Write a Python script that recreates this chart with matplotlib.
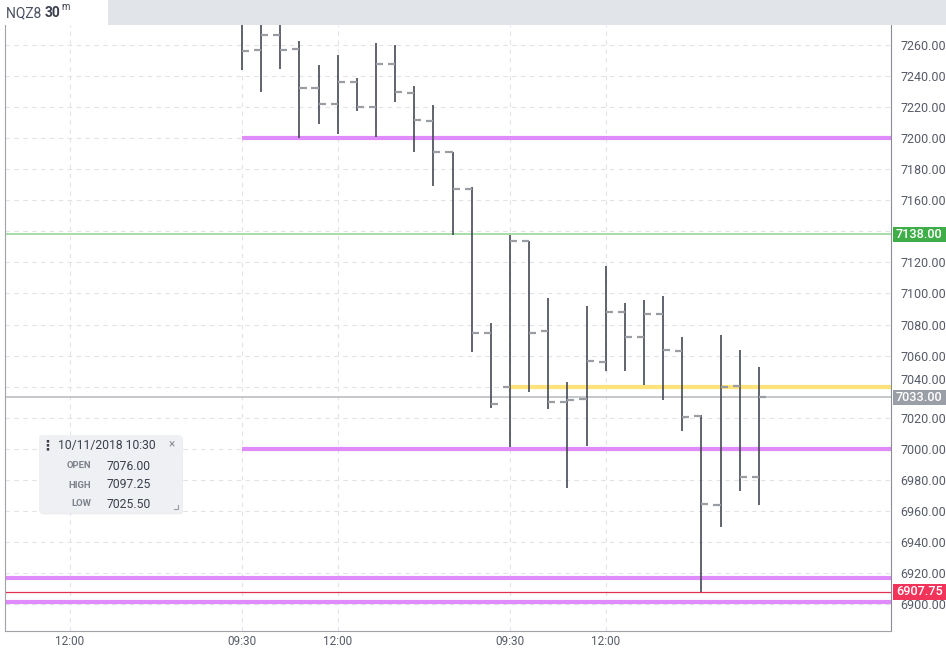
import matplotlib
matplotlib.use('Agg')
import matplotlib.pyplot as plt
from matplotlib.patches import Rectangle, FancyBboxPatch
from matplotlib.lines import Line2D
import matplotlib.transforms as mtransforms

plt.rcParams['font.family'] = ['Roboto', 'DejaVu Sans']

# 30 minute bars, index 0 = 09:30 of the first visible session
opens = [7276, 7256.75, 7266.5, 7257.5, 7232.25, 7222, 7236.25, 7220, 7248, 7229.25,
         7211.25, 7191, 7167.25, 7074.75, 7040, 7133.75, 7076, 7030.25, 7032, 7056,
         7088, 7072, 7086.75, 7063.25, 7021, 6963.75, 7040.5, 6981.75]
highs = [7278, 7280, 7276, 7262.5, 7247, 7253.5, 7238.75, 7261.25, 7260, 7233.5,
         7221.5, 7191.25, 7168.5, 7080.75, 7137.75, 7134, 7097.25, 7043, 7092, 7117.75,
         7094, 7095.75, 7098.5, 7072, 7021.75, 7073.25, 7063.5, 7052.75]
lows = [7244, 7230, 7244.5, 7200.25, 7209, 7203, 7217.75, 7201, 7223, 7191,
        7169.25, 7137.5, 7062, 7026.5, 7001, 7036.5, 7025.5, 6974.75, 7001.75, 7050,
        7050, 7041, 7031.5, 7011.5, 6907.75, 6949.75, 6972.75, 6963.75]
closes = [7256, 7266.5, 7256.75, 7232.25, 7222, 7236.25, 7220, 7248, 7229.75, 7212,
          7191, 7167.25, 7074.75, 7029, 7133.75, 7074.75, 7030.25, 7031.5, 7056.5, 7088.25,
          7072, 7086.75, 7063.75, 7020.5, 6964.5, 7040, 6981.75, 7033]

# drawn levels: (price, start index or None for full width, kind)
levels = [
    (7200, 0, 'purple'),
    (7000, 0, 'purple'),
    (6917, None, 'purple'),
    (6901, None, 'purple'),
    (7040, 14, 'yellow'),
    (7138, None, 'green'),
    (7033, None, 'gray'),
    (6907.75, None, 'red'),
]
level_styles = {
    'purple': dict(color='#df8bfb', lw=3.0),
    'yellow': dict(color='#ffe27a', lw=3.0),
    'green': dict(color='#8fd590', lw=1.1),
    'gray': dict(color='#bcbec2', lw=1.2),
    'red': dict(color='#e0334f', lw=0.9),
}
price_tags = [(7138, '7138.00', '#3fae49'), (7033, '7033.00', '#9a9ea6'),
              (6907.75, '6907.75', '#f2335a')]

y_ticks = list(range(6900, 7261, 20))
hidden_ticks = [7140]  # covered by the 7138 tag
x_ticks = [-9, 0, 5, 14, 19]
x_labels = ['12:00', '09:30', '12:00', '09:30', '12:00']

W, H = 946, 650
fig = plt.figure(figsize=(W / 100, H / 100), dpi=100)
ax = fig.add_axes([5 / W, (H - 631) / H, (891 - 5) / W, (631 - 25) / H])

px_per_20 = 31.06
ax.set_ylim(6900 - 27 / px_per_20 * 20, 7260 + 20 / px_per_20 * 20)
ax.set_xlim((5 - 242) / 19.14, (891 - 242) / 19.14)

# grid
for y in y_ticks:
    ax.axhline(y, color='#e2e3e6', lw=0.8, dashes=(4, 4), zorder=0)
for x in x_ticks:
    ax.axvline(x, color='#e2e3e6', lw=0.8, dashes=(4, 4), zorder=0)

# levels
for price, start, kind in levels:
    st = level_styles[kind]
    x0 = ax.get_xlim()[0] if start is None else start
    ax.hlines(price, x0, ax.get_xlim()[1], colors=st['color'], lw=st['lw'], zorder=2)

# OHLC bars
tw = 0.37
idx = list(range(len(opens)))
ax.vlines(idx, lows, highs, colors='#454954', lw=1.2, zorder=3)
ax.hlines(opens, [i - tw for i in idx], idx, colors='#9a9da3', lw=1.6, zorder=3)
ax.hlines(closes, idx, [i + tw for i in idx], colors='#9a9da3', lw=1.6, zorder=3)

# axes styling
ax.spines['top'].set_visible(False)
ax.spines['left'].set_color('#a0a3a8')
ax.spines['bottom'].set_color('#a0a3a8')
ax.spines['right'].set_color('#8a8d93')
ax.yaxis.tick_right()
ax.set_yticks(y_ticks)
ax.set_yticklabels(['' if v in hidden_ticks else f'{v:.2f}' for v in y_ticks])
ax.set_xticks(x_ticks)
ax.set_xticklabels(x_labels)
ax.tick_params(axis='y', length=0, pad=7, labelsize=9, labelcolor='#565b68')
ax.tick_params(axis='x', length=0, pad=3, labelsize=8.5, labelcolor='#565b68')
# the 7040 label sits just above the 7033 tag
for lab in ax.get_yticklabels():
    if lab.get_text() == '7040.00':
        lab.set_va('bottom')

# price tags on the right axis
trans = mtransforms.blended_transform_factory(ax.transAxes, ax.transData)
aw = 886
for price, txt, col in price_tags:
    h = 15.5 / px_per_20 * 20
    ax.add_patch(Rectangle((1 + 2 / aw, price - h / 2), 54 / aw, h, transform=trans,
                           facecolor=col, edgecolor='none', clip_on=False, zorder=10))
    ax.text(1 + 5 / aw, price, txt, transform=trans, color='white', fontsize=9.2,
            fontweight='medium', va='center', ha='left', zorder=11, clip_on=False)


def fp(x, y):
    return x / W, 1 - y / H


# header bar and symbol title
x0, y0 = fp(108, 25)
fig.patches.append(Rectangle((x0, y0), 1 - x0, 1 - y0, transform=fig.transFigure,
                             facecolor='#e1e4e9', edgecolor='none'))
fig.text(*fp(6, 13), 'NQZ8 ', fontsize=10, color='#4b5060', va='center', ha='left')
fig.text(*fp(45, 13), '30', fontsize=10, color='#3b3f4c', fontweight='bold', va='center', ha='left')
fig.text(*fp(61, 7), 'm', fontsize=7, color='#3b3f4c', va='center', ha='left')

# tooltip box
bx0, by1 = fp(39, 513)
bx1, by0 = fp(182, 435)
fig.patches.append(FancyBboxPatch((bx0 + 0.001, by1 - 0.002), bx1 - bx0, by0 - by1,
                                  boxstyle='round,pad=0,rounding_size=0.004',
                                  transform=fig.transFigure, facecolor='#d8dadd',
                                  edgecolor='none', alpha=0.5))
fig.patches.append(FancyBboxPatch((bx0, by1), bx1 - bx0, by0 - by1,
                                  boxstyle='round,pad=0,rounding_size=0.004',
                                  transform=fig.transFigure, facecolor='#eef0f3',
                                  edgecolor='none'))
fig.text(*fp(47, 445), '⋮', fontsize=10, color='#3b3f4c', va='center', ha='center',
         fontweight='bold', family=['DejaVu Sans'])
fig.text(*fp(58, 445), '10/11/2018 10:30', fontsize=8.7, color='#3b3f4c', va='center', ha='left')
fig.text(*fp(172, 444), '×', fontsize=8.5, color='#8a8d93', va='center', ha='center')
rows = [('OPEN', '7076.00', 466), ('HIGH', '7097.25', 485), ('LOW', '7025.50', 504)]
for lab, val, yy in rows:
    fig.text(*fp(91, yy), lab, fontsize=6.8, color='#7d818a', fontweight='bold',
             va='center', ha='right')
    fig.text(*fp(107, yy), val, fontsize=8.7, color='#3b3f4c', va='center', ha='left')
cx, cy = fp(178, 509)
cx0, cy0 = fp(174, 505)
fig.lines.append(Line2D([cx0, cx, cx], [cy, cy, cy0], transform=fig.transFigure,
                        color='#9a9da3', lw=0.8))

fig.savefig('out.png', dpi=100, facecolor='white')
